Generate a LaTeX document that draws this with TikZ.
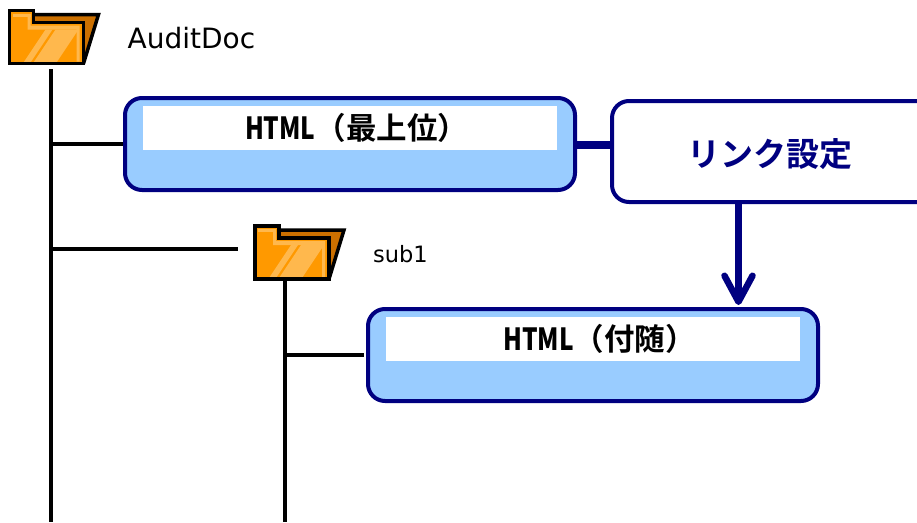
\documentclass[tikz,border=0pt]{standalone}
\usepackage{fontspec}
\setmainfont{DejaVu Sans}
\newfontfamily\cjkbold[BoldFont={Noto Sans CJK JP Bold}]{Noto Sans CJK JP}
\newfontfamily\narrowbold[FakeStretch=0.8]{Noto Sans CJK JP Bold}
\usetikzlibrary{arrows.meta}
\definecolor{boxnavy}{HTML}{000080}
\definecolor{boxblue}{HTML}{99CCFF}
\definecolor{folderfront}{HTML}{FF9900}
\definecolor{folderback}{HTML}{CC7000}
\definecolor{folderlight}{HTML}{FFB84D}
\newcommand{\htmlword}{\hspace{13pt}{\narrowbold HTML}}
\begin{document}
\begin{tikzpicture}
[x=1pt,y=-1pt,
  treeline/.style={-,line width=3.5pt,black},%
  linkline/.style={-,line width=7.5pt,boxnavy},%
  folderedge/.style={line width=3.5pt,black,line join=miter},%
  folderspot/.style={shape=rectangle,inner sep=0pt,minimum width=90pt,minimum height=54pt},%
  filebox/.style={shape=rectangle,rounded corners=17pt,draw=boxnavy,line width=4pt,fill=boxblue,inner sep=0pt,minimum width=450pt,minimum height=92pt},%
  filetitle/.style={shape=rectangle,fill=white,inner sep=0pt,minimum width=414pt,minimum height=44pt,font=\cjkbold\bfseries\fontsize{30.5}{30.5}\selectfont},%
  linkbox/.style={shape=rectangle,rounded corners=17pt,draw=boxnavy,line width=4pt,fill=white,inner sep=0pt,minimum width=330pt,minimum height=101pt}]
\useasboundingbox (0,0) rectangle (917,522);
%% folders
\foreach \nodename/\x/\y in {rootfolder/9.5/10.5, subfolder/255/226} {
  \begin{scope}[shift={(\x,\y)}]
    \fill[folderback] (24,4) -- (89,4) -- (74,53) -- (24,53) -- cycle;
    \fill[folderfront] (0,0) -- (24,0) -- (24,12) -- (74,12) -- (74,53) -- (0,53) -- cycle;
    \fill[folderlight] (3,3) -- (21,3) -- (21,6) -- (3,6) -- cycle;
    \fill[folderlight] (14,52) -- (36,19) -- (43,19) -- (21,52) -- cycle;
    \fill[folderlight] (24,52) -- (46,19) -- (69,19) -- (47,52) -- cycle;
    \fill[folderlight] (18,6) -- (21,6) -- (21,15) -- (70,15) -- (70,51) -- (67,51) -- (67,19) -- (18,19) -- cycle;
    \draw[folderedge] (24,4) -- (89,4) -- (74,53);
    \draw[folderedge] (0,0) -- (24,0) -- (24,12) -- (74,12) -- (74,53) -- (0,53) -- cycle;
  \end{scope}
  \node (\nodename) at (\x+44.5,\y+27) [folderspot] {};
}
%% labels
\node (rootlabel) at (191.5,38) {\fontsize{28}{28}\selectfont AuditDoc};
\node (sublabel) at (400.5,254) {\fontsize{22.5}{22.5}\selectfont sub1};
%% boxes
\node (topbox) at (350,144) [filebox] {};
\node (toptitle) at (350,128) [filetitle] {\raisebox{-2pt}{\htmlword（最上位）}};
\node (subbox) at (593,355) [filebox] {};
\node (subtitle) at (593,339) [filetitle] {\raisebox{-2pt}{\htmlword（付随）}};
\node (setbox) at (777,151.5) [linkbox] {};
\node (settext) at (770,154.5) [text=boxnavy,font=\cjkbold\bfseries\fontsize{33}{33}\selectfont] {リンク設定};
%% free ends of the lines
\coordinate (rootend) at (51,522);
\coordinate (subend) at (285,522);
\coordinate (topfork) at (51,144);
\coordinate (subfork) at (51,249);
\coordinate (boxfork) at (285,355);
\coordinate (subgap) at (238,249);
\coordinate (subshort) at (364,355);
\coordinate (setdrop) at (738.5,202);
%% lines
\draw[treeline] (51,69) coordinate (roottop) -- (rootend);
\draw[treeline] (285,280) coordinate (subtop) -- (subend);
\path
\foreach \startnode/\endnode in {topfork/topbox.west, subfork/subgap, boxfork/subshort} {
  (\startnode) edge[treeline] node {} (\endnode)
};
\draw[linkline] (topbox.east |- 0,145) -- (setbox.west |- 0,145);
\draw[linkline,-{Straight Barb[length=26pt,width=28pt,round,line width=6.5pt]},shorten >=2pt] (setdrop) -- (setdrop |- subbox.north);
\end{tikzpicture}
\end{document}
